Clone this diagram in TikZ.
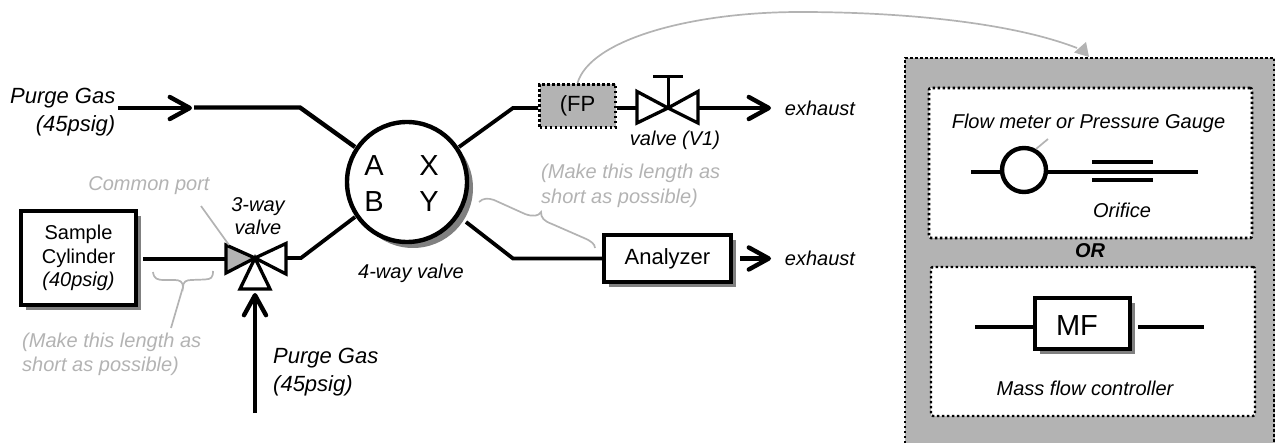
\documentclass[tikz,border=0pt]{standalone}
\usepackage{fontspec}
\setmainfont{Liberation Sans}
\usetikzlibrary{arrows.meta,shadows}
\definecolor{lightg}{HTML}{B3B3B3}
\definecolor{shadeg}{HTML}{808080}
\tikzset{
  x=1pt,y=-1pt,
  txt/.style={inner sep=0pt,align=center,font=\fontsize{20}{23.5}\selectfont},
  itxt/.style={txt,font=\fontsize{20}{23.5}\selectfont\itshape},
  big/.style={txt,font=\fontsize{22}{27.5}\selectfont},
  ibig/.style={txt,font=\fontsize{22}{27.5}\selectfont\itshape},
  note/.style={itxt,text=lightg,align=left,font=\fontsize{20}{24.5}\selectfont\itshape},
  box/.style={draw=black,line width=4.5pt,fill=white,inner sep=0pt,
    drop shadow={shadow xshift=5pt,shadow yshift=-5pt,fill=shadeg,opacity=1}},
  pipe/.style={line width=4.4pt,draw=black},
  thinpipe/.style={line width=3.8pt,draw=black},
  flow/.style={pipe,-{Straight Barb[length=20pt,width=22pt,line width=4.4pt,round]}},
  valvetri/.style={draw=black,line width=3.3pt,fill=white,line join=miter},
  guide/.style={draw=lightg,line width=1.7pt},
  dots/.style={draw=black,line width=2.8pt,dash pattern=on 2.5pt off 2.5pt},
}
\begin{document}
\begin{tikzpicture}
\useasboundingbox (0,0) rectangle (1276,443);
% gas inlets
\coordinate (p1) at (118,108);
\coordinate (p1t) at (192,108);
\coordinate (p2) at (194,107.5);
\coordinate (p3) at (300,107.5);
% right-hand detail panel
\fill[lightg] (905,58) rectangle (1275,443);
\draw[dots] (905,443) -- (905,58) -- (1274,58) -- (1274,443);
\node[draw=black,line width=2.6pt,dash pattern=on 2.5pt off 2.5pt,fill=white,rounded corners=2pt,minimum width=323pt,minimum height=150pt,inner sep=0pt] (inner1) at (1090.5,163) {};
\node[draw=black,line width=2.4pt,dash pattern=on 2.5pt off 2.5pt,fill=white,rounded corners=2pt,minimum width=324pt,minimum height=149pt,inner sep=0pt] (inner2) at (1093,341.5) {};
% 4-way valve
\node[circle,draw=black,line width=4.4pt,fill=white,minimum size=120pt,inner sep=0pt,
  drop shadow={shadow xshift=6pt,shadow yshift=-6pt,fill=shadeg,opacity=1}] (fourway) at (407,182) {};
\node[txt,font=\fontsize{29}{30}\selectfont] (la) at (374,166) {A};
\node[txt,font=\fontsize{29}{30}\selectfont] (lx) at (429,166) {X};
\node[txt,font=\fontsize{29}{30}\selectfont] (lb) at (374,202) {B};
\node[txt,font=\fontsize{29}{30}\selectfont] (ly) at (429,202) {Y};
\node[itxt] (l4) at (411,273.5) {4-way valve};
% boxes
\node[box,minimum width=115pt,minimum height=94pt,txt] (cyl) at (78.5,258) {Sample\\Cylinder\\{\itshape(40psig)}};
\node[box,minimum width=127pt,minimum height=47pt,big] (ana) at (667.5,258.5) {Analyzer};
\node[draw=black,line width=2.8pt,dash pattern=on 2.5pt off 2.5pt,fill=lightg,minimum width=76pt,minimum height=43pt,inner sep=0pt,big] (fp) at (577.5,106) {(FP};
% pipes
\coordinate (a1) at (143,259);
\coordinate (a2) at (226,259);
\coordinate (b1) at (286,258);
\coordinate (b2) at (301,258);
\coordinate (c1) at (355,217);
\coordinate (d1) at (355,147);
\coordinate (e1) at (459,147);
\coordinate (e2) at (513,108);
\coordinate (f1) at (466,222);
\coordinate (f2) at (513,258.5);
\draw[flow] (p1) -- (p1t);
\draw[pipe,line join=miter] (p2) -- (p3) -- (d1);
\draw[pipe] (a1) -- (a2);
\draw[thinpipe] (b1) -- (b2) -- (c1);
\draw[thinpipe] (e1) -- (e2) -- (e2 -| fp.west);
\draw[thinpipe] (f1) -- (f2) -- (ana.west);
% 3-way valve
\coordinate (v3) at (255,258);
\draw[valvetri,fill=lightg] (226,245) -- (226,273) -- (v3) -- cycle;
\draw[valvetri] (286,243.5) -- (286,274) -- (v3) -- cycle;
\draw[valvetri] (240,289) -- (270,289) -- (v3) -- cycle;
\coordinate (pin) at (255,413);
\coordinate (pint) at (255,293);
\draw[flow] (pin) -- (pint);
% valve V1
\coordinate (v1) at (668,108);
\coordinate (v1l) at (637,108);
\coordinate (v1r) at (699,108);
\coordinate (v1t) at (668,76.5);
\coordinate (ex1) at (771,108);
\coordinate (ex2) at (771,258.5);
\coordinate (ana2) at (740,258.5);
\draw[thinpipe] (fp.east |- v1l) -- (v1l);
\draw[valvetri] (637,91.5) -- (637,123) -- (v1) -- cycle;
\draw[valvetri] (698,91.5) -- (698,123) -- (v1) -- cycle;
\draw[line width=3pt] (v1) -- (v1t);
\draw[line width=3pt] (653,76.5) -- (683,76.5);
\draw[flow] (v1r) -- (ex1);
\draw[flow] (ana2) -- (ex2);
% text
\node[ibig,align=right,anchor=north east] (tp1) at (115.5,88) {Purge Gas\\(45psig)};
\node[ibig,align=left,anchor=north west] (tp2) at (273,348) {Purge Gas\\(45psig)};
\node[itxt] (t3w) at (258,216) {3-way\\valve};
\node[itxt] (tv1) at (675,140) {valve (V1)};
\node[itxt] (tex1) at (820,108) {exhaust};
\node[itxt] (tex2) at (820,258) {exhaust};
\node[note] (tcp) at (149,186) {Common port};
\node[note,anchor=west] (tn1) at (22,354.5) {(Make this length as\\short as possible)};
\node[note,anchor=west] (tn2) at (541,186) {(Make this length as\\short as possible)};
% guides
\coordinate (g1) at (201,206);
\coordinate (g2) at (229,245);
\draw[guide] (g1) -- (g2);
\coordinate (br1) at (153,272);
\coordinate (br2) at (213,271);
\coordinate (brt) at (183,287);
\coordinate (brl) at (171,328);
\draw[guide] (br1) .. controls (154,279) and (157,280) .. (165,280) -- (175,280) .. controls (180,280) and (183,282) .. (brt)
  .. controls (183,282) and (186,280) .. (191,280) -- (205,279.5) .. controls (211,279) and (213,278) .. (br2);
\draw[guide] (brt) -- (brl);
\coordinate (bq1) at (479,202);
\coordinate (bq2) at (595,248);
\coordinate (bqt) at (541,212);
\draw[guide] (bq1) .. controls (483,198) and (488,198) .. (494,200) -- (525,214) .. controls (533,217) and (539,216) .. (bqt)
  .. controls (541,218) and (544,221) .. (552,224) -- (584,238) .. controls (591,241) and (595,244) .. (bq2);
% pointer curve
\coordinate (bigtop) at (1089,57);
\coordinate (bign) at (1077,48);
\draw[guide] (fp.north) .. controls (590,40) and (690,12) .. (800,12) .. controls (900,12) and (1010,22) .. (bign);
\fill[lightg] (bigtop) -- (1074,52.5) -- (1086,42) -- cycle;
% panel 1
\node[itxt] (tfm) at (1088.5,123) {Flow meter or Pressure Gauge};
\node[circle,draw=black,line width=4.4pt,fill=white,minimum size=44pt,inner sep=0pt] (gauge) at (1024,170) {};
\coordinate (q1) at (971,172);
\coordinate (q2) at (1198,172);
\coordinate (q3) at (1036,149);
\coordinate (q4) at (1048,139);
\draw[pipe] (q1) -- (gauge.west |- q1);
\draw[pipe] (gauge.east |- q2) -- (q2);
\draw[guide] (q3) -- (q4);
\coordinate (o1) at (1092,162);
\coordinate (o2) at (1153,162);
\coordinate (o3) at (1092,180);
\coordinate (o4) at (1153,180);
\draw[pipe] (o1) -- (o2);
\draw[pipe] (o3) -- (o4);
\node[itxt] (tor) at (1122,210) {Orifice};
\node[txt,font=\fontsize{20}{24}\selectfont\bfseries\itshape] (tOR) at (1090,251) {OR};
% panel 2
\node[box,minimum width=95pt,minimum height=51pt] (mf) at (1082.5,323.5) {};
\node[txt,font=\fontsize{29}{30}\selectfont] (mft) at (1077,326) {MF};
\coordinate (m1) at (975,327);
\coordinate (m2) at (1138,327);
\coordinate (m3) at (1204,327);
\draw[pipe] (m1) -- (mf.west |- m1);
\draw[pipe] (m2) -- (m3);
\node[itxt] (tmf) at (1085,388) {Mass flow controller};
\end{tikzpicture}
\end{document}
